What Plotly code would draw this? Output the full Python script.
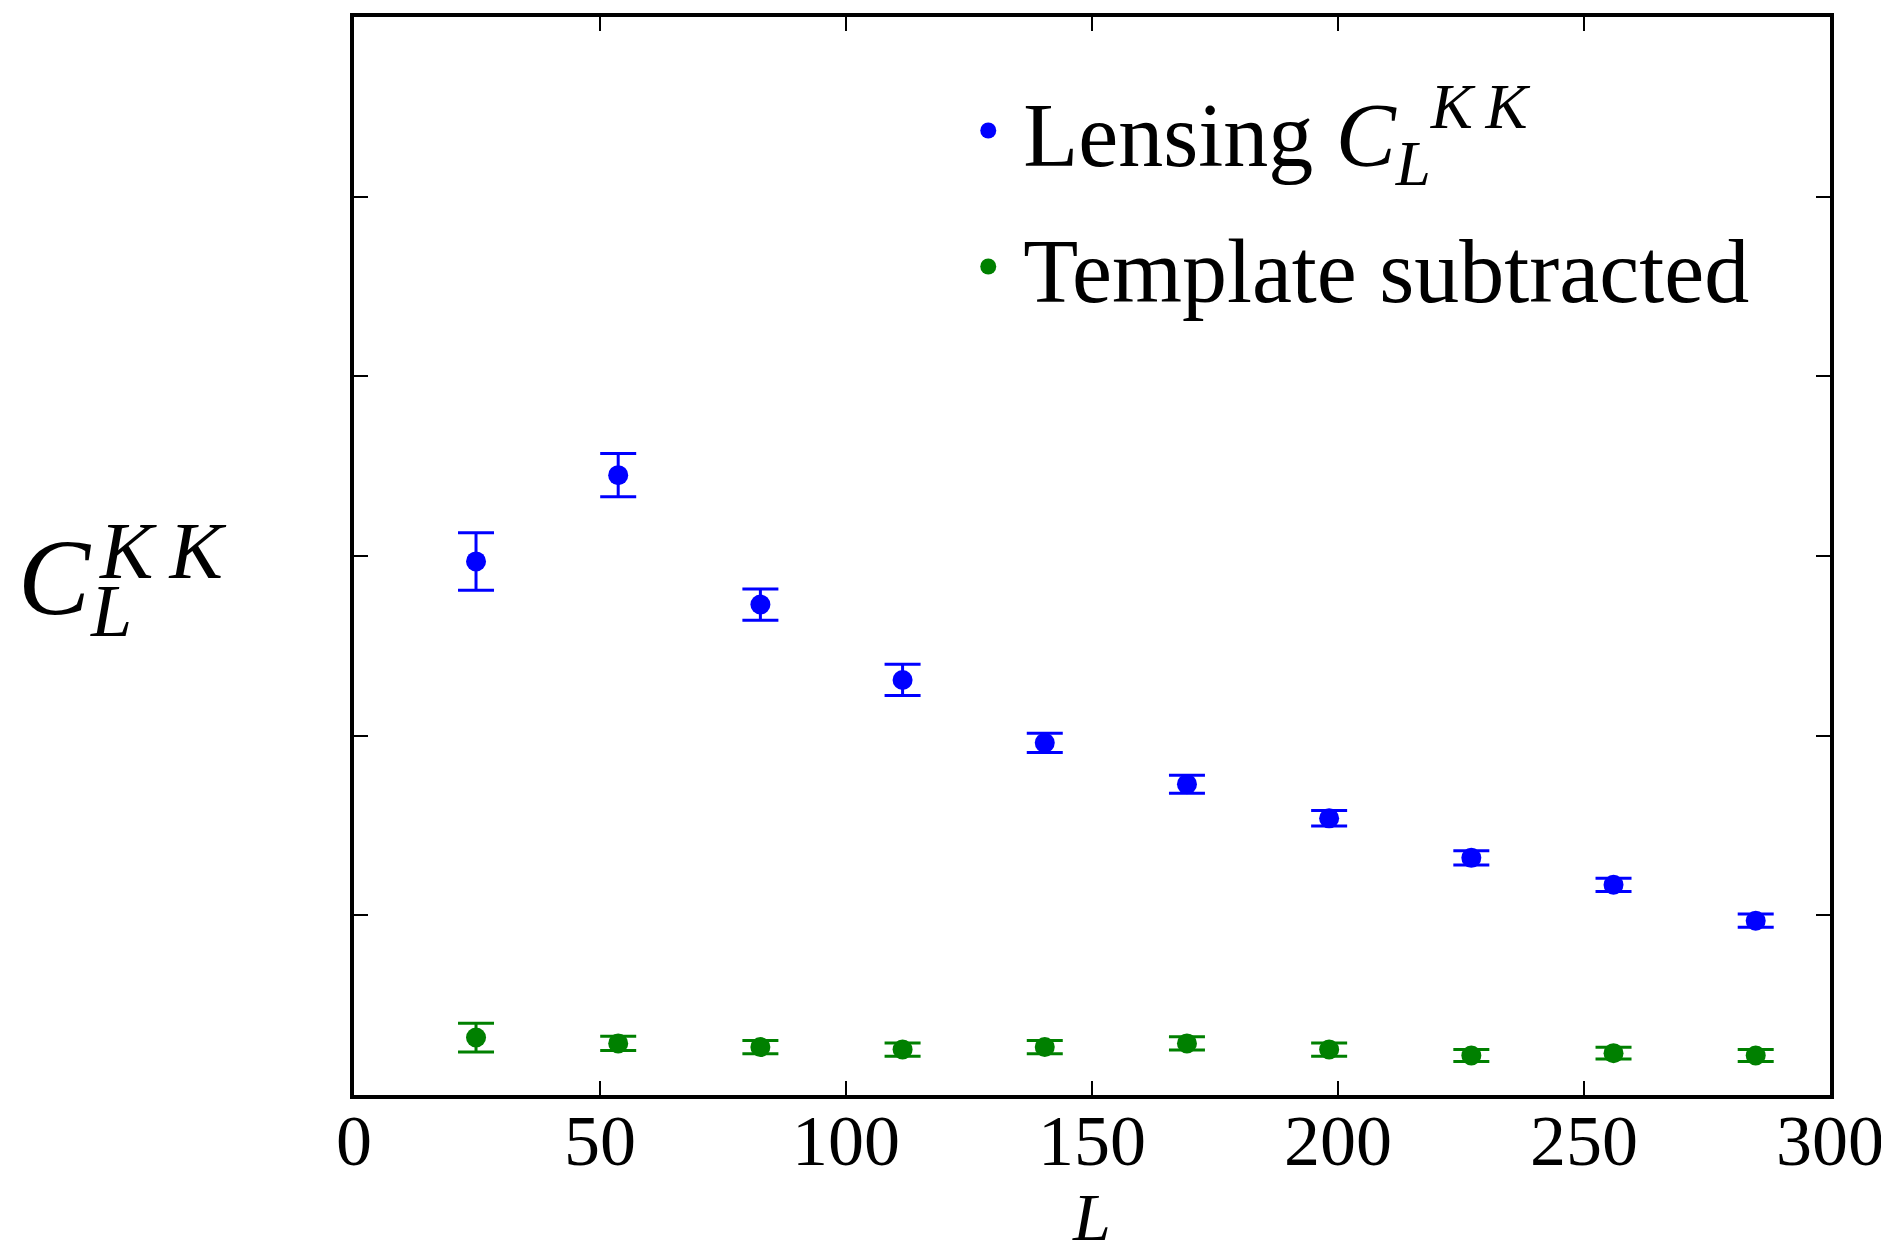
import plotly.graph_objects as go

# ---- data ----
L_vals = [24.8, 53.7, 82.6, 111.5, 140.4, 169.3, 198.2, 227.1, 256.0, 284.9]
lensing = [2.97, 3.45, 2.73, 2.31, 1.96, 1.73, 1.54, 1.32, 1.17, 0.97]
lensing_err = [0.16, 0.12, 0.087, 0.087, 0.053, 0.05, 0.043, 0.04, 0.037, 0.037]
template = [0.32, 0.287, 0.267, 0.253, 0.267, 0.287, 0.253, 0.22, 0.233, 0.22]
template_err = [0.08, 0.04, 0.037, 0.037, 0.037, 0.037, 0.037, 0.033, 0.033, 0.033]
x_ticks = [0, 50, 100, 150, 200, 250, 300]
y_ticks = [0, 1, 2, 3, 4, 5, 6]

FONT = "Liberation Serif"
BLUE = "#0000ff"
GREEN = "#008000"
THIN = "\u2009"

fig = go.Figure()
for name, yv, ev, col, grp in [
    ("Lensing <i>C</i><sub><i>L</i></sub><sup><i>K" + THIN + "K</i></sup>", lensing, lensing_err, BLUE, "a"),
    ("Template subtracted", template, template_err, GREEN, "b"),
]:
    fig.add_trace(go.Scatter(
        x=L_vals, y=yv, mode="markers", name=name, legendgroup=grp,
        marker=dict(color=col, size=20, symbol="circle"),
        error_y=dict(type="data", array=ev, visible=True, color=col,
                     thickness=3, width=18),
    ))

axis_common = dict(
    showline=True, linecolor="black", linewidth=4, mirror="ticks",
    ticks="inside", ticklen=14, tickwidth=2, tickcolor="black",
    showgrid=False, zeroline=False, automargin=False,
)
fig.update_xaxes(range=[0, 300], tickvals=x_ticks, ticktext=[str(t) for t in x_ticks],
                 tickfont=dict(family=FONT, size=72, color="black"),
                 ticklabelstandoff=-20,
                 **axis_common)
fig.update_yaxes(range=[0, 6], tickvals=y_ticks, showticklabels=False, **axis_common)

# x-axis label L
fig.add_annotation(text="<i>L</i>", xref="paper", yref="paper", x=0.4997, y=-0.113,
                   xanchor="center", yanchor="middle", showarrow=False,
                   font=dict(family=FONT, size=68, color="black"))

# y-axis label C_L^{KK}
fig.add_annotation(text="<i>C</i>", xref="paper", yref="paper", x=-0.2027, y=0.4805,
                   xanchor="center", yanchor="middle", showarrow=False,
                   font=dict(family=FONT, size=108, color="black"))
fig.add_annotation(text="<i>K" + THIN + "K</i>", xref="paper", yref="paper", x=-0.130, y=0.505,
                   xanchor="center", yanchor="middle", showarrow=False,
                   font=dict(family=FONT, size=80, color="black"))
fig.add_annotation(text="<i>L</i>", xref="paper", yref="paper", x=-0.1643, y=0.449,
                   xanchor="center", yanchor="middle", showarrow=False,
                   font=dict(family=FONT, size=74, color="black"))

fig.update_layout(
    width=1889, height=1244,
    margin=dict(l=346, r=67, t=9, b=157, autoexpand=False),
    plot_bgcolor="white", paper_bgcolor="white",
    showlegend=True,
    legend=dict(x=0.406, y=0.955, xanchor="left", yanchor="top",
                font=dict(family=FONT, size=90, color="black"),
                bgcolor="rgba(0,0,0,0)", borderwidth=0,
                traceorder="grouped", tracegroupgap=16, itemwidth=60),
)

fig.write_html("out.html")
